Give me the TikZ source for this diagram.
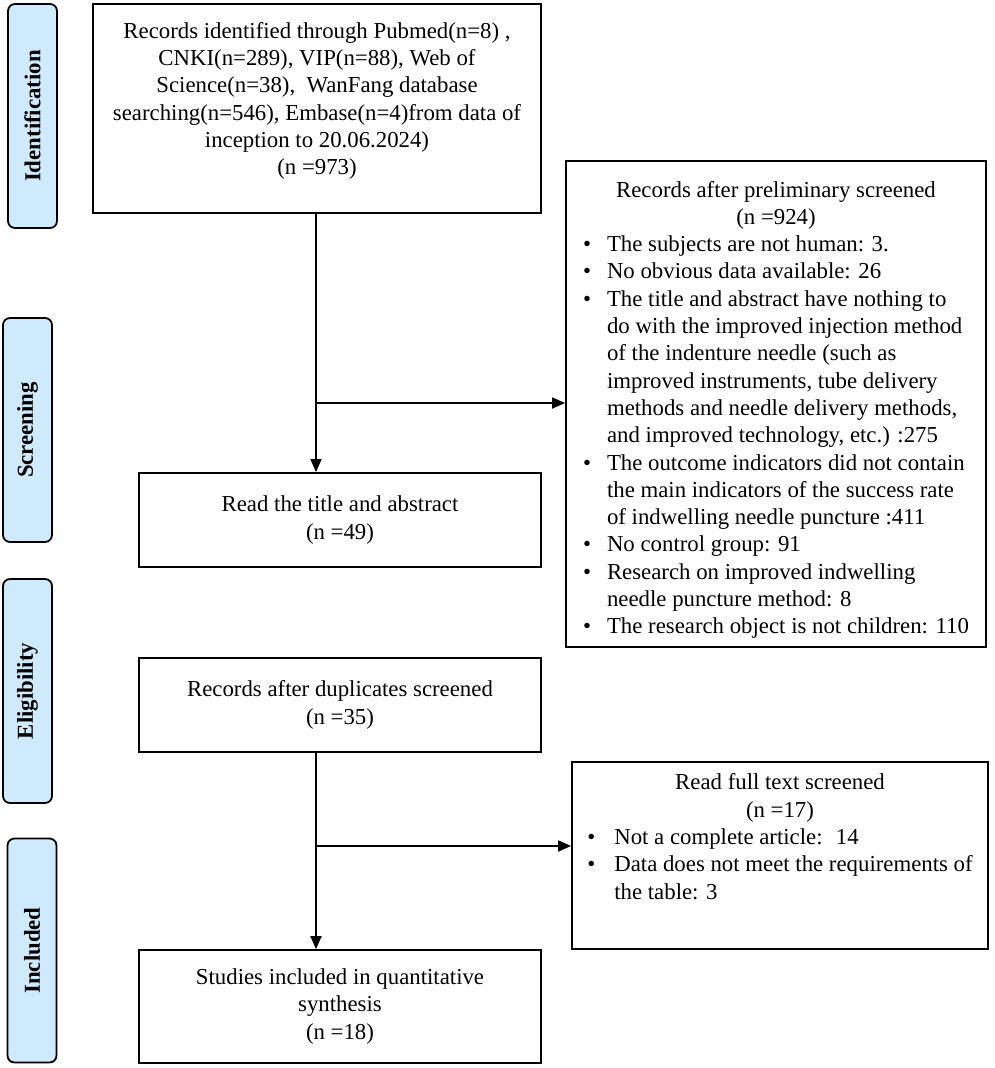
\documentclass[tikz,border=0pt]{standalone}
\usepackage{fontspec}
\setmainfont{Liberation Serif}
\usetikzlibrary{arrows.meta}
\definecolor{phasefill}{RGB}{206,234,252}
\newcommand{\ctab}[1]{\begin{tabular}{@{}c@{}}#1\end{tabular}}
\newcommand{\bulA}{\makebox[24pt][l]{\textbullet}}
\newcommand{\bulB}{\makebox[27pt][l]{\textbullet}}
\begin{document}
\begin{tikzpicture}[x=1pt,y=-1pt,
  txt/.style={font=\fontsize{22.8}{27.3}\selectfont},
  box/.style={draw=black,line width=1.8pt,fill=white,inner sep=0pt,txt},
  phase/.style={draw=black,line width=1.8pt,fill=phasefill,rounded corners=7pt,
    minimum width=49pt,minimum height=224pt,inner sep=0pt,
    font=\fontsize{22.8}{27.3}\selectfont\bfseries},
  arr/.style={line width=1.8pt,-{Triangle[length=13pt,width=11pt]}},
  conn/.style={line width=1.8pt}]
\useasboundingbox (0,0) rectangle (995,1068);

% phase labels
\node[phase] (ident) at (32.5,116) {\rotatebox{90}{Identification}};
\node[phase] (screen) at (27.5,430) {\rotatebox{90}{Screening}};
\node[phase] (elig) at (27.5,691) {\rotatebox{90}{Eligibility}};
\node[phase] (incl) at (32,950.5) {\rotatebox{90}{Included}};

% main boxes
\node[box,minimum width=448pt,minimum height=209pt] (b1) at (317,108.5)
  {\ctab{Records identified through Pubmed(n=8) ,\\
  CNKI(n=289), VIP(n=88), Web of\\
  Science(n=38),~ WanFang database\\
  searching(n=546), Embase(n=4)from data of\\
  inception to 20.06.2024)\\
  (n =973)\\[15pt]}};
\node[box,minimum width=402pt,minimum height=94pt] (b2) at (340,520)
  {\ctab{Read the title and abstract\\(n =49)}};
\node[box,minimum width=402pt,minimum height=94pt] (b3) at (340,705)
  {\ctab{Records after duplicates screened\\(n =35)}};
\node[box,minimum width=402pt,minimum height=113pt] (b4) at (340,1006.5)
  {\ctab{Studies included in quantitative\\synthesis\\(n =18)}};

% exclusion boxes
\node[box,minimum width=420pt,minimum height=486pt] (r1) at (776,404)
  {\begin{tabular}{@{}l@{}l@{}}
  \multicolumn{2}{@{}c@{}}{\rule{0pt}{31pt}Records after preliminary screened}\\
  \multicolumn{2}{@{}c@{}}{(n =924)}\\
  \bulA & The subjects are not human: 3.\\
  \bulA & No obvious data available: 26\\
  \bulA & The title and abstract have nothing to\\
   & do with the improved injection method\\
   & of the indenture needle (such as\\
   & improved instruments, tube delivery\\
   & methods and needle delivery methods,\\
   & and improved technology, etc.) :275\\
  \bulA & The outcome indicators did not contain\\
   & the main indicators of the success rate\\
   & of indwelling needle puncture :411\\
  \bulA & No control group: 91\\
  \bulA & Research on improved indwelling\\
   & needle puncture method: 8\\
  \bulA & The research object is not children: 110
  \end{tabular}};
\node[box,minimum width=416pt,minimum height=187pt] (r2) at (780,855.5)
  {\begin{tabular}{@{}l@{}l@{}}
  \multicolumn{2}{@{}c@{}}{Read full text screened}\\
  \multicolumn{2}{@{}c@{}}{(n =17)}\\
  \bulB & Not a complete article:~ 14\\
  \bulB & Data does not meet the requirements of\\
   & the table: 3\\[33pt]
  \end{tabular}};

% connectors
\coordinate (j1) at (316,403);
\coordinate (j2) at (316,846);
\draw[arr] (b1.south -| j1) -- (b2.north -| j1);
\draw[arr] (j1) -- (j1 -| r1.west);
\draw[arr] (b3.south -| j2) -- (b4.north -| j2);
\draw[arr] (j2) -- (j2 -| r2.west);
\end{tikzpicture}
\end{document}
